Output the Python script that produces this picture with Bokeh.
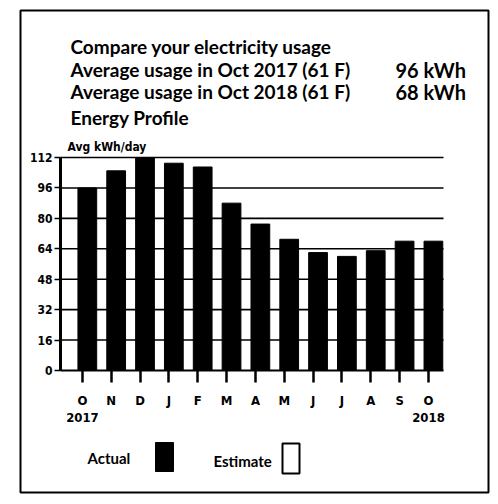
from bokeh.plotting import figure
from bokeh.models import ColumnDataSource, FixedTicker, Range1d
from bokeh.core.properties import value
from bokeh.transform import dodge
from bokeh.embed import file_html
from bokeh.resources import INLINE

# ---- data ----
months = ["O", "N", "D", "J", "F", "M", "A", "M", "J", "J", "A", "S", "O"]
year_marks = {0: "2017", 12: "2018"}
usage = [96, 105, 112, 109, 107, 88, 77, 69, 62, 60, 63, 68, 68]
y_ticks = [0, 16, 32, 48, 64, 80, 96, 112]
title_lines = ["Compare your electricity usage",
               "Average usage in Oct 2017 (61 F)",
               "Average usage in Oct 2018 (61 F)",
               "Energy Profile"]
avg_values = ["96 kWh", "68 kWh"]
y_title = "Avg kWh/day"
legend_labels = ["Actual", "Estimate"]

FONT = "DejaVu Sans Condensed"
HEAD_FONT = "Lato"

# ---- layout (canvas pixels) ----
W, H = 496, 500
CL, CR = 60, 443          # chart x extent on canvas
CB, CT = 370, 157         # y=0 and y=112 on canvas
X0, X1 = -0.76, 12.52
YTOP = y_ticks[-1]
xu = (CR - CL) / (X1 - X0)
yu = (CB - CT) / YTOP
xs, xe = X0 - CL / xu, X1 + (W - CR) / xu
ys, ye = -(H - CB) / yu, CB / yu

def dx(px):
    return xs + px / xu

def dy(py):
    return ye - py / yu

src = ColumnDataSource(dict(x=list(range(len(months))), usage=usage))

p = figure(width=W, height=H, x_range=Range1d(xs, xe), y_range=Range1d(ys, ye),
           output_backend="svg", toolbar_location=None, min_border=0)
p.outline_line_color = None
p.background_fill_color = "white"
p.border_fill_color = "white"
p.xgrid.visible = False
p.ygrid.visible = False

# horizontal rules at the y ticks
grid_src = ColumnDataSource(dict(y=y_ticks[1:]))
p.segment(x0=X0, x1=X1, y0="y", y1="y", source=grid_src,
          line_color="black", line_width=1.6)

p.vbar(x=dodge("x", 0.17), top="usage", width=0.65, source=src,
       fill_color="black", line_color="black")

# x axis
xa = p.xaxis[0]
xa.fixed_location = 0
xa.bounds = (X0, X1)
xa.ticker = FixedTicker(ticks=list(range(len(months))))
xa.major_label_overrides = {
    i: (m + "\n" + year_marks[i]) if i in year_marks else m
    for i, m in enumerate(months)
}
xa.axis_line_width = 2
xa.axis_line_color = "black"
xa.major_tick_line_width = 2.5
xa.major_tick_out = 12
xa.major_tick_in = 0
xa.minor_tick_line_color = None
xa.major_label_standoff = 10
xa.major_label_text_font = FONT
xa.major_label_text_font_style = "bold"
xa.major_label_text_font_size = "13px"
xa.major_label_text_line_height = 1.15
xa.major_label_text_color = "black"

# y axis
ya = p.yaxis[0]
ya.fixed_location = X0
ya.bounds = (0, YTOP)
ya.ticker = FixedTicker(ticks=y_ticks)
ya.axis_line_width = 3
ya.axis_line_color = "black"
ya.major_tick_line_width = 1.5
ya.major_tick_out = 6
ya.major_tick_in = 0
ya.minor_tick_line_color = None
ya.major_label_standoff = 2
ya.major_label_text_font = FONT
ya.major_label_text_font_style = "bold"
ya.major_label_text_font_size = "12px"
ya.major_label_text_color = "black"

def add_text(texts, px_list, py_list, size, font=HEAD_FONT):
    p.text(x=[dx(v) for v in px_list], y=[dy(v) for v in py_list], text=texts,
           text_font=value(font), text_font_style="bold", text_font_size=size,
           text_color="black", text_align="left", text_baseline="middle")

# header
add_text(title_lines, [70, 70, 70, 70], [46, 69, 91, 117], "19px")
add_text(avg_values, [395, 395], [69, 91], "20px")
add_text([y_title], [67], [146], "12px", FONT)

# legend
add_text(legend_labels, [87, 213], [457, 460], "15px")
p.quad(left=[dx(155)], right=[dx(173)], top=[dy(442)], bottom=[dy(471)],
       fill_color="black", line_color="black", line_width=1)
p.quad(left=[dx(282)], right=[dx(299)], top=[dy(443)], bottom=[dy(473)],
       fill_color=None, line_color="black", line_width=2)

# outer border
p.quad(left=[dx(20)], right=[dx(488)], top=[dy(10)], bottom=[dy(492)],
       fill_color=None, line_color="black", line_width=2)

open("out.html", "w").write(file_html(p, INLINE))
